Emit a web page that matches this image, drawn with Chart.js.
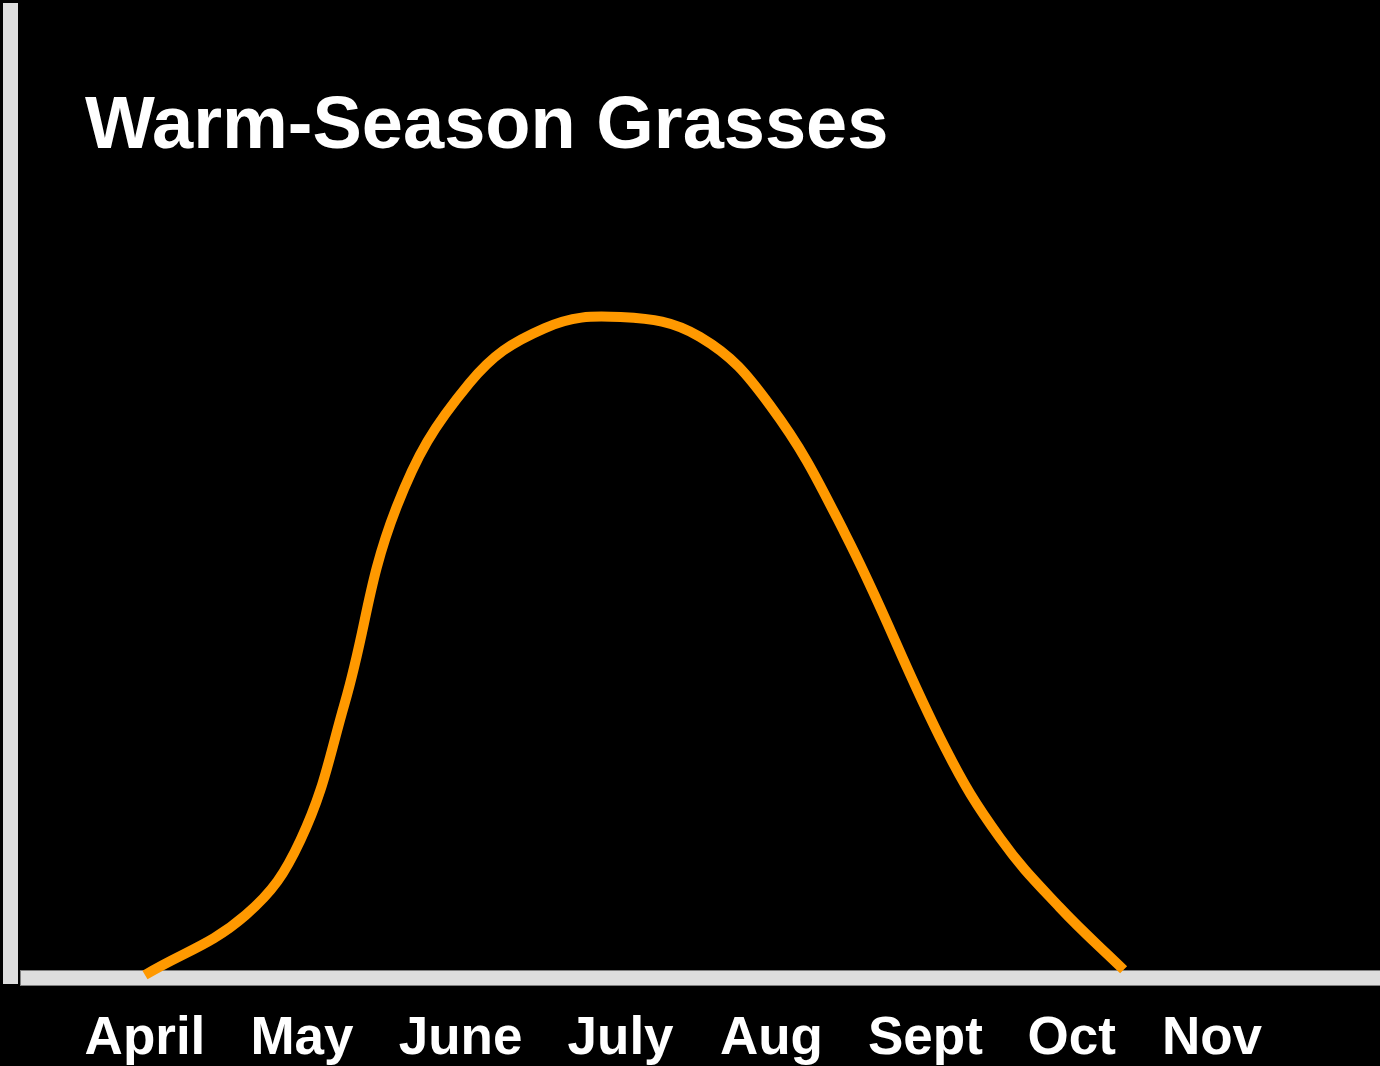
<!DOCTYPE html>
<html>
<head>
<meta charset="utf-8">
<title>Warm-Season Grasses</title>
<script src="https://cdn.jsdelivr.net/npm/chart.js@4.4.1/dist/chart.umd.min.js"></script>
<style>
  html, body { margin: 0; padding: 0; background: #000; }
  canvas { display: block; }
</style>
</head>
<body>
<canvas id="growth-chart" width="1380" height="1066"></canvas>
<script>
  "use strict";

  // month labels and where they sit on the month axis (April = 0)
  const monthLabels = ["April", "May", "June", "July", "Aug", "Sept", "Oct", "Nov"];
  const monthTicks = [0, 1.03, 2.07, 3.12, 4.11, 5.12, 6.08, 7.0];

  // growth curve (month position, relative growth)
  const curveMonths = [0, 0.66, 1.02, 1.31, 1.65, 2.13, 2.62, 3.12, 3.64, 4.1, 4.59, 5.25, 5.61, 6.0, 6.42];
  const curveGrowth = [0, 9.1, 20.5, 41.3, 71.1, 90.0, 98.3, 100, 97.0, 86.6, 67.2, 34.5, 20.8, 10.3, 0.8];

  const titleText = "Warm-Season Grasses";
  const fontFamily = '"Liberation Sans", Arial, Helvetica, sans-serif';

  const axisBars = {
    id: "axisBars",
    beforeDatasetsDraw(chart) {
      const { ctx, chartArea } = chart;
      ctx.save();
      ctx.fillStyle = "#dddddd";
      // vertical bar on the left
      ctx.fillRect(chartArea.left - 15, 3, 15, chartArea.bottom - 5);
      // horizontal bar along the bottom
      ctx.fillRect(chartArea.left + 2, chartArea.bottom - 16, chartArea.right - chartArea.left, 16);
      ctx.strokeStyle = "#808080";
      ctx.lineWidth = 1;
      ctx.strokeRect(chartArea.left + 2.5, chartArea.bottom - 15.5, chartArea.right - chartArea.left, 15);
      ctx.restore();
    },
    afterDraw(chart) {
      const { ctx } = chart;
      ctx.save();
      ctx.fillStyle = "#ffffff";
      ctx.font = "bold 74px " + fontFamily;
      ctx.textBaseline = "alphabetic";
      ctx.textAlign = "left";
      ctx.fillText(titleText, 85, 148);
      ctx.restore();
    },
  };

  const points = curveMonths.map((m, i) => ({ x: m, y: curveGrowth[i] }));

  new Chart(document.getElementById("growth-chart"), {
    type: "line",
    data: {
      datasets: [
        {
          data: points,
          borderColor: "#ff9900",
          borderWidth: 10,
          borderCapStyle: "butt",
          pointRadius: 0,
          tension: 0.4,
          fill: false,
        },
      ],
    },
    options: {
      responsive: false,
      animation: false,
      events: [],
      layout: {
        padding: { left: 18, right: 0, top: 0, bottom: 0 },
      },
      plugins: {
        legend: { display: false },
        tooltip: { enabled: false },
      },
      scales: {
        x: {
          type: "linear",
          min: -0.833,
          max: 8.102,
          grid: { display: false },
          border: { display: false },
          afterBuildTicks(scale) {
            scale.ticks = monthTicks.map((v) => ({ value: v }));
          },
          afterFit(scale) {
            scale.height = 80;
          },
          ticks: {
            autoSkip: false,
            maxRotation: 0,
            color: "#ffffff",
            padding: 14,
            font: { family: fontFamily, size: 53, weight: "bold" },
            callback: (value, index) => monthLabels[index],
          },
        },
        y: {
          display: false,
          min: -1.67,
          max: 148.2,
        },
      },
    },
    plugins: [axisBars],
  });
</script>
</body>
</html>
